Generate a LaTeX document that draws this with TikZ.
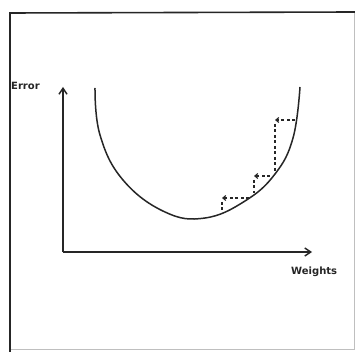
\documentclass[tikz,border=0pt]{standalone}
\usepackage{fontspec}
\setmainfont{DejaVu Sans}
\usetikzlibrary{arrows.meta}
\begin{document}
\begin{tikzpicture}[x=1pt,y=-1pt,
  frameline/.style={line width=1.6pt,black!85},
  faintline/.style={line width=0.8pt,black!25},
  axisline/.style={line width=1.4pt,black!85,-{Straight Barb[length=6pt,width=8pt,line width=1.4pt]}},
  curveline/.style={line width=1.5pt,black!85},
  dashline/.style={line width=1.2pt,black!85,dash pattern=on 3pt off 2.5pt},
  steparrow/.style={dashline,-{Straight Barb[length=3pt,width=5pt,line width=1.1pt]}},
  lbl/.style={font=\bfseries\fontsize{10}{11}\selectfont,inner sep=0pt,anchor=west,black!85}]
\useasboundingbox (0,0) rectangle (355,352);
\fill[white] (0,0) rectangle (355,352);
% frame
\coordinate (fTL) at (10,13);
\coordinate (fTR) at (355,12);
\coordinate (fBL) at (10,352);
\coordinate (fBR) at (354,349);
\coordinate (fRT) at (354,13);
\draw[faintline] (10,349) -- (fBR) -- (fRT);
\draw[frameline] (fBL) -- (fTL) -- (fTR);
% axes
\coordinate (O) at (63,252);
\coordinate (ytop) at (63,87);
\coordinate (xend) at (312,252);
\draw[axisline] (O) -- (ytop);
\draw[axisline] (O) -- (xend);
\node[lbl] (err) at (11,86) {Error};
\node[lbl] (wts) at (291,272) {Weights};
% error curve
\draw[curveline] plot[smooth,tension=0.7] coordinates {(95,88) (100,135) (123,180) (165,212) (205,218) (245,201) (275,174) (293,138) (300,87)};
% gradient steps
\coordinate (s1) at (295,120);
\coordinate (a1) at (275,120);
\coordinate (v1) at (275,124);
\coordinate (c1) at (275,171);
\coordinate (s2) at (270,176);
\coordinate (a2) at (254,176);
\coordinate (v2) at (254,180);
\coordinate (c2) at (254,193);
\coordinate (s3) at (249,198);
\coordinate (a3) at (222,198);
\coordinate (v3) at (222,202);
\coordinate (c3) at (222,213);
\draw[steparrow] (s1) -- (a1);
\draw[dashline] (v1) -- (c1);
\draw[steparrow] (s2) -- (a2);
\draw[dashline] (v2) -- (c2);
\draw[steparrow] (s3) -- (a3);
\draw[dashline] (v3) -- (c3);
\end{tikzpicture}
\end{document}
